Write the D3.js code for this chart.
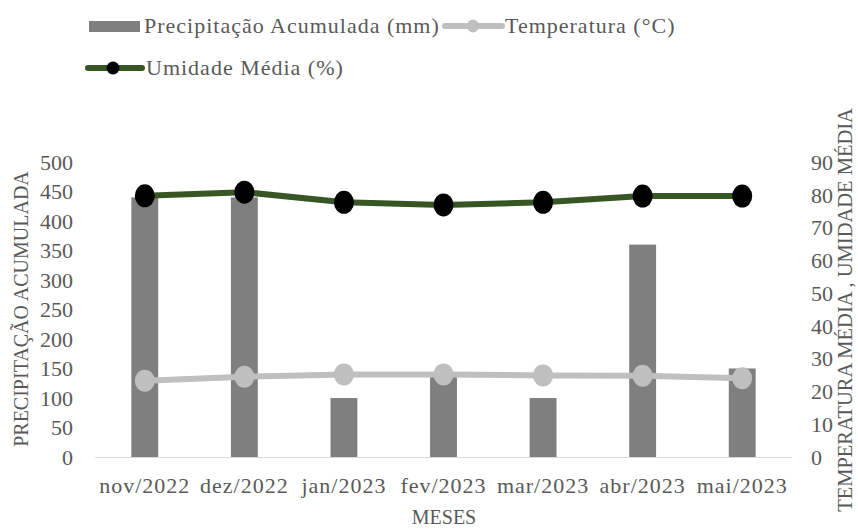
<!DOCTYPE html>
<html><head><meta charset="utf-8">
<script src="https://cdn.jsdelivr.net/npm/d3@7"></script>
<style>body{margin:0;background:#fff}svg{display:block}text{font-family:"Liberation Serif","Times New Roman",serif;fill:#595959}</style>
</head><body><svg id="c" width="858" height="529"></svg>
<script>
const categories = ["nov/2022","dez/2022","jan/2023","fev/2023","mar/2023","abr/2023","mai/2023"];
const precipitacao = [440, 440, 100, 137, 100, 360, 150];
const temperatura = [23.3, 24.5, 25.2, 25.2, 24.9, 24.8, 24.0];
const umidade = [79.7, 80.8, 77.7, 76.9, 77.7, 79.6, 79.6];
const leftTicks = [0,50,100,150,200,250,300,350,400,450,500];
const rightTicks = [0,10,20,30,40,50,60,70,80,90];
const seriesNames = ["Precipitação Acumulada (mm)","Temperatura (°C)","Umidade Média (%)"];

const svg = d3.select("#c");
const x = d3.scaleBand().domain(categories).range([95, 792]).paddingInner(0.73).paddingOuter(0.365);
const yL = d3.scaleLinear().domain([0,500]).range([457,162]);
const yR = d3.scaleLinear().domain([0,90]).range([457,162]);
const cx = d => x(d) + x.bandwidth()/2;

// bars
svg.append("g").selectAll("rect").data(categories).join("rect")
  .attr("x", d => x(d)).attr("width", x.bandwidth())
  .attr("y", (d,i) => yL(precipitacao[i])).attr("height", (d,i) => yL(0) - yL(precipitacao[i]))
  .attr("fill", "#7f7f7f");

// baseline
svg.append("line").attr("x1",95).attr("x2",792).attr("y1",yL(0)+0.5).attr("y2",yL(0)+0.5)
  .attr("stroke","#d9d9d9").attr("stroke-width",1);

// left axis
const gL = svg.append("g").attr("transform","translate(73,0)")
  .call(d3.axisLeft(yL).tickValues(leftTicks).tickSize(0).tickPadding(0));
gL.select(".domain").remove();
gL.selectAll("text").style("font-size","22px").attr("dy","0.33em").style("fill","#595959");

// right axis
const gR = svg.append("g").attr("transform","translate(811,0)")
  .call(d3.axisRight(yR).tickValues(rightTicks).tickSize(0).tickPadding(0));
gR.select(".domain").remove();
gR.selectAll("text").style("font-size","22px").attr("dy","0.33em").style("fill","#595959");

// bottom axis labels
const gB = svg.append("g")
  .call(d3.axisBottom(x).tickSize(0).tickPadding(0));
gB.select(".domain").remove();
gB.selectAll("text").attr("y",493).attr("dy",0).style("font-size","22px").style("letter-spacing","1px").style("fill","#595959");

// temperature line
const lineT = d3.line().x(d => cx(d.c)).y(d => yR(d.v));
const tData = categories.map((c,i) => ({c, v: temperatura[i]}));
svg.append("path").datum(tData).attr("d", lineT).attr("fill","none").attr("stroke","#bfbfbf").attr("stroke-width",6).attr("stroke-linejoin","round");
svg.append("g").selectAll("ellipse").data(tData).join("ellipse")
  .attr("cx", d => cx(d.c)).attr("cy", d => yR(d.v)).attr("rx",10).attr("ry",11).attr("fill","#bfbfbf");

// humidity line
const hData = categories.map((c,i) => ({c, v: umidade[i]}));
svg.append("path").datum(hData).attr("d", lineT).attr("fill","none").attr("stroke","#375623").attr("stroke-width",6).attr("stroke-linejoin","round");
svg.append("g").selectAll("ellipse").data(hData).join("ellipse")
  .attr("cx", d => cx(d.c)).attr("cy", d => yR(d.v)).attr("rx",10).attr("ry",11.5).attr("fill","#000");

// axis titles
svg.append("text").attr("transform","translate(28,309) rotate(-90)").attr("text-anchor","middle")
  .style("font-size","20px").text("PRECIPITAÇÃO ACUMULADA");
svg.append("text").attr("transform","translate(852,310) rotate(-90)").attr("text-anchor","middle")
  .style("font-size","20.5px").text("TEMPERATURA MÉDIA , UMIDADE MÉDIA");
svg.append("text").attr("x",444).attr("y",524).attr("text-anchor","middle")
  .style("font-size","20px").text("MESES");

// legend
const lg = svg.append("g");
lg.append("rect").attr("x",89).attr("y",21).attr("width",51).attr("height",11).attr("fill","#7f7f7f");
lg.append("text").attr("x",144).attr("y",33).style("font-size","22px").style("letter-spacing","1px").text(seriesNames[0]);
lg.append("line").attr("x1",445).attr("x2",502).attr("y1",26).attr("y2",26).attr("stroke","#bfbfbf").attr("stroke-width",6).attr("stroke-linecap","round");
lg.append("ellipse").attr("cx",473).attr("cy",26).attr("rx",6).attr("ry",6.5).attr("fill","#bfbfbf");
lg.append("text").attr("x",505).attr("y",33).style("font-size","22px").style("letter-spacing","1px").text(seriesNames[1]);
lg.append("line").attr("x1",88).attr("x2",142).attr("y1",68).attr("y2",68).attr("stroke","#375623").attr("stroke-width",6).attr("stroke-linecap","round");
lg.append("ellipse").attr("cx",113).attr("cy",68).attr("rx",6.5).attr("ry",6.5).attr("fill","#000");
lg.append("text").attr("x",146).attr("y",75).style("font-size","22px").style("letter-spacing","1px").text(seriesNames[2]);
</script></body></html>
